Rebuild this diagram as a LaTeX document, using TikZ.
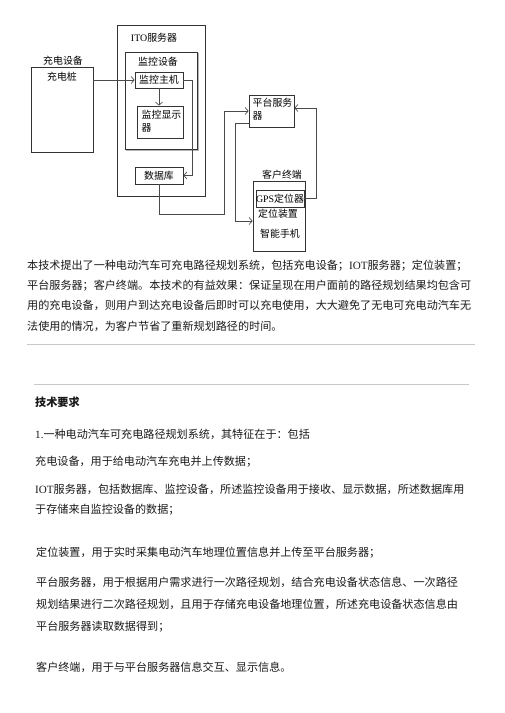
\documentclass[tikz,border=0pt]{standalone}
\usepackage{fontspec}
\setmainfont{Noto Sans CJK SC}
\newfontfamily\latf{Liberation Serif}
\newcommand{\lat}[1]{{\latf #1}}
\usetikzlibrary{arrows.meta}
\definecolor{boxc}{HTML}{333333}
\definecolor{linec}{HTML}{4A4A4A}
\definecolor{txt}{HTML}{1A1A1A}
\definecolor{rulec}{HTML}{C8C8C8}
\tikzset{
  box/.style={draw=boxc, line width=0.8pt, inner sep=0pt},
  arr/.style={draw=linec, line width=0.7pt, -{Straight Barb[length=3pt,width=7pt]}},
  lbl/.style={inner sep=0pt, text=black, font=\fontsize{9.9}{13}\selectfont},
  para/.style={anchor=base west, inner sep=0pt, text=txt, font=\fontsize{11.1}{13}\selectfont},
  hrule/.style={draw=rulec, line width=1pt}
}
\begin{document}
\begin{tikzpicture}[x=1pt,y=-1pt]
\useasboundingbox (0,0) rectangle (504,713);
\fill[white] (0,0) rectangle (504,713);

% ---------- diagram ----------
\node[box, minimum width=62pt, minimum height=85pt] (cd) at (62,109.5) {};
\node[lbl] (cdt) at (63,61) {充电设备};
\node[lbl] (cdz) at (62,77) {充电桩};

\node[box, minimum width=88pt, minimum height=171pt] (ito) at (161,110.5) {};
\node[lbl] (itot) at (154,38) {\lat{ITO}服务器};

\node[box, line width=0.9pt, minimum width=72pt, minimum height=97pt] (jk) at (161,100.5) {};
\draw[draw=gray!60, line width=0.6pt] ([xshift=1.3pt,yshift=-1.3pt]jk.north east) -- ([xshift=1.3pt,yshift=-1.3pt]jk.south east) -- ([xshift=1.3pt,yshift=-1.3pt]jk.south west);
\node[lbl] (jkt) at (158,62) {监控设备};

\node[box, lbl, draw=boxc, line width=0.8pt, minimum width=48pt, minimum height=16pt] (zj) at (159,80) {监控主机};
\node[box, minimum width=46pt, minimum height=32pt] (xs) at (160,122) {};
\node[lbl, anchor=north west, align=left] (xst) at (141.5,110) {监控显示\\器};

\node[box, lbl, draw=boxc, line width=0.8pt, minimum width=48pt, minimum height=17pt] (db) at (159,175.5) {数据库};

\node[box, minimum width=45pt, minimum height=32pt] (pt) at (271.5,111) {};
\node[lbl, anchor=north west, align=left] (ptt) at (252.5,97.5) {平台服务\\器};

\node[box, minimum width=52pt, minimum height=70pt] (kh) at (279,216) {};
\node[lbl] (kht) at (282,175) {客户终端};
\node[box, lbl, draw=boxc, line width=0.8pt, minimum width=48pt, minimum height=17pt] (gps) at (280,198.5) {\lat{GPS}定位器};
\node[lbl] (dw) at (278,214) {定位装置};
\node[lbl] (sj) at (280,234) {智能手机};

\coordinate (c1) at (224,214);
\draw[arr] (cd.east |- zj.west) -- (zj.west);
\draw[arr] (zj.south) -- (zj.south |- xs.north);
\draw[arr] (zj.east) -- ++(9,0) |- (db.east);
\draw[arr] (db.south) |- (c1) |- (pt.west);
\draw[arr] ([yshift=4pt]pt.south west) -- ++(-13,0) |- ([yshift=-5pt]kh.west);
\draw[arr] (gps.east) -- ++(12,0) |- ([yshift=3pt]pt.east);

% ---------- paragraph 1 ----------
\node[para] (p1) at (27,269.2) {本技术提出了一种电动汽车可充电路径规划系统，包括充电设备；\lat{IOT}服务器；定位装置；};
\node[para] (p2) at (27,289.2) {平台服务器；客户终端。本技术的有益效果：保证呈现在用户面前的路径规划结果均包含可};
\node[para] (p3) at (27,309.2) {用的充电设备，则用户到达充电设备后即时可以充电使用，大大避免了无电可充电动汽车无};
\node[para] (p4) at (27,330.2) {法使用的情况，为客户节省了重新规划路径的时间。};

\draw[hrule] (27,344) -- (475,344);
\draw[hrule] (34,384) -- (469,384);

% ---------- section 2 ----------
\node[para, font=\fontsize{11.1}{13}\selectfont\bfseries] (s0) at (35,406.2) {技术要求};
\node[para] (s1) at (35,438.2) {\lat{1.}一种电动汽车可充电路径规划系统，其特征在于：包括};
\node[para] (s2) at (35,465.2) {充电设备，用于给电动汽车充电并上传数据；};
\node[para] (s3) at (35,493.2) {\lat{IOT}服务器，包括数据库、监控设备，所述监控设备用于接收、显示数据，所述数据库用};
\node[para] (s4) at (35,513.2) {于存储来自监控设备的数据；};
\node[para] (s5) at (36,556.2) {定位装置，用于实时采集电动汽车地理位置信息并上传至平台服务器；};
\node[para] (s6) at (36,586.2) {平台服务器，用于根据用户需求进行一次路径规划，结合充电设备状态信息、一次路径};
\node[para] (s7) at (36,608.2) {规划结果进行二次路径规划，且用于存储充电设备地理位置，所述充电设备状态信息由};
\node[para] (s8) at (36,630.2) {平台服务器读取数据得到；};
\node[para] (s9) at (36,671.2) {客户终端，用于与平台服务器信息交互、显示信息。};
\end{tikzpicture}
\end{document}
